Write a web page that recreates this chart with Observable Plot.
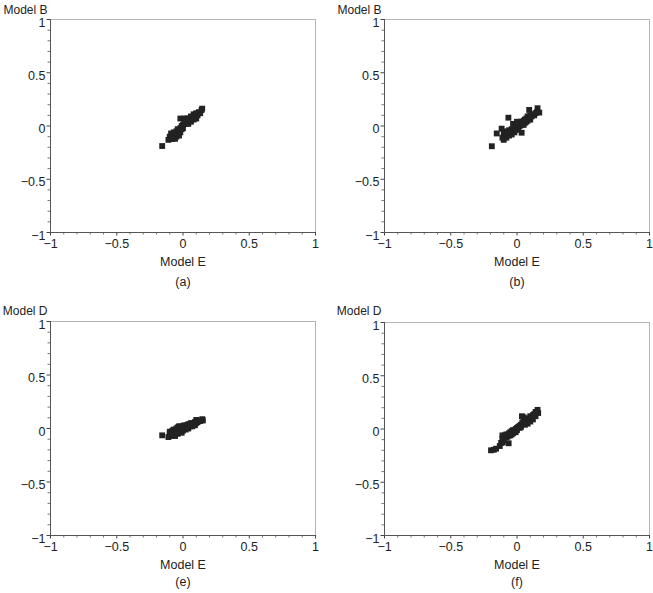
<!DOCTYPE html>
<html>
<head>
<meta charset="utf-8">
<script src="https://cdn.jsdelivr.net/npm/d3@7"></script>
<script src="https://cdn.jsdelivr.net/npm/@observablehq/plot@0.6"></script>
<style>
  html, body { margin: 0; padding: 0; background: #fff; }
  #root { position: relative; width: 653px; height: 593px; overflow: hidden; }
  .panel { position: absolute; }
  .panel svg { font-family: 'Liberation Sans', Arial, Helvetica, sans-serif; }
</style>
</head>
<body>
<div id="root"></div>
<script>
// Tick values
const majorTicks = [-1, -0.5, 0, 0.5, 1];
const minorTicks = [-0.9, -0.8, -0.7, -0.6, -0.4, -0.3, -0.2, -0.1, 0.1, 0.2, 0.3, 0.4, 0.6, 0.7, 0.8, 0.9];

// Panel titles
const panelCaptions = ["(a)", "(b)", "(e)", "(f)"];
const yLabels = ["Model B", "Model B", "Model D", "Model D"];
const xLabel = "Model E";

// Panel (a): Model E (x) vs Model B (y)
const panelA = [
  [-0.157,-0.188],[-0.11,-0.13],[-0.10,-0.10],[-0.09,-0.12],[-0.09,-0.07],[-0.08,-0.09],
  [-0.07,-0.06],[-0.07,-0.11],[-0.06,-0.08],[-0.05,-0.05],[-0.05,-0.10],[-0.04,-0.03],
  [-0.04,-0.07],[-0.03,-0.05],[-0.02,-0.02],[-0.02,-0.06],[-0.01,0.00],[-0.01,-0.03],
  [0.00,0.01],[0.00,-0.02],[-0.02,0.07],[0.01,0.03],[0.01,0.07],[0.02,0.02],[0.02,0.05],
  [0.03,0.04],[0.04,0.07],[0.04,0.02],[0.05,0.06],[0.06,0.09],[0.06,0.04],[0.07,0.08],
  [0.08,0.11],[0.08,0.06],[0.09,0.09],[0.10,0.12],[0.10,0.07],[0.11,0.10],[0.12,0.13],
  [0.13,0.12],[0.14,0.15],[0.145,0.163],[-0.03,-0.09],[-0.06,-0.12],[-0.08,-0.12],[0.03,0.07]
];

// Panel (b): Model E (x) vs Model B (y)
const panelB = [
  [-0.19,-0.19],[-0.153,-0.07],[-0.065,0.078],[-0.116,-0.025],[0.035,-0.063],[0.155,0.167],
  [0.092,0.151],[0.168,0.126],[-0.11,-0.11],[-0.10,-0.13],[-0.10,-0.07],[-0.09,-0.09],
  [-0.08,-0.05],[-0.08,-0.11],[-0.07,-0.07],[-0.06,-0.04],[-0.06,-0.09],[-0.05,-0.06],
  [-0.04,-0.03],[-0.04,-0.08],[-0.03,-0.05],[-0.02,-0.02],[-0.02,-0.06],[-0.01,-0.01],
  [-0.01,-0.04],[0.00,0.01],[0.00,-0.03],[0.01,0.02],[0.01,-0.02],[0.02,0.03],[0.02,0.00],
  [0.03,0.04],[0.03,0.01],[0.04,0.02],[0.05,0.05],[0.05,0.01],[0.06,0.06],[0.06,0.03],
  [0.07,0.07],[0.07,0.04],[0.08,0.09],[0.08,0.05],[0.09,0.08],[0.10,0.10],[0.10,0.06],
  [0.11,0.09],[0.12,0.11],[0.13,0.10],[0.14,0.12],[0.15,0.13],[-0.03,0.02],[0.00,0.04]
];

// Panel (e): Model E (x) vs Model D (y)
const panelE = [
  [-0.157,-0.064],[0.145,0.087],[0.15,0.075],[-0.11,-0.08],[-0.10,-0.05],[-0.10,-0.03],
  [-0.09,-0.07],[-0.08,-0.04],[-0.08,-0.02],[-0.07,-0.06],[-0.07,-0.01],[-0.06,-0.03],
  [-0.06,-0.07],[-0.05,-0.02],[-0.05,0.00],[-0.04,-0.05],[-0.04,0.01],[-0.03,-0.03],
  [-0.03,0.02],[-0.02,-0.01],[-0.02,0.02],[-0.01,-0.04],[-0.01,0.01],[0.00,-0.02],
  [0.00,0.02],[0.01,0.00],[0.01,0.03],[0.02,-0.01],[0.02,0.02],[0.03,0.01],[0.03,0.03],
  [0.04,0.00],[0.04,0.04],[0.05,0.02],[0.05,0.04],[0.06,0.03],[0.06,0.05],[0.07,0.02],
  [0.07,0.05],[0.08,0.04],[0.09,0.06],[0.09,0.03],[0.10,0.05],[0.10,0.08],[0.11,0.06],
  [0.12,0.07],[0.13,0.07],[-0.06,-0.05],[-0.09,-0.05]
];

// Panel (f): Model E (x) vs Model D (y)
const panelF = [
  [-0.196,-0.20],[-0.175,-0.195],[-0.158,-0.185],[-0.13,-0.16],[-0.108,-0.127],[-0.063,-0.134],
  [-0.12,-0.13],[-0.11,-0.06],[-0.11,-0.09],[-0.10,-0.08],[-0.10,-0.11],[-0.09,-0.06],
  [-0.08,-0.08],[-0.08,-0.05],[-0.07,-0.07],[-0.06,-0.04],[-0.06,-0.06],[-0.05,-0.03],
  [-0.05,-0.06],[-0.04,-0.02],[-0.04,-0.05],[-0.03,-0.01],[-0.03,-0.04],[-0.02,-0.02],
  [-0.01,0.00],[-0.01,-0.03],[0.00,0.01],[0.00,-0.01],[0.01,0.02],[0.02,0.01],[0.02,0.03],
  [0.03,0.04],[0.03,0.02],[0.037,0.12],[0.05,0.11],[0.04,0.06],[0.05,0.05],[0.06,0.08],
  [0.06,0.04],[0.07,0.07],[0.08,0.10],[0.08,0.05],[0.09,0.09],[0.10,0.12],[0.10,0.07],
  [0.11,0.10],[0.12,0.13],[0.12,0.09],[0.13,0.14],[0.14,0.16],[0.14,0.12],[0.155,0.18],[0.16,0.15]
];

const panelData = [panelA, panelB, panelE, panelF];

// Layout of the four panels (position and margins)
const layout = [
  {left: 0,   top: 0,   width: 330, height: 298, ml: 50, mr: 15, mt: 19, mb: 66, capDy: 53, labDy: -14.5},
  {left: 330, top: 0,   width: 323, height: 298, ml: 54, mr: 4,  mt: 19, mb: 66, capDy: 53, labDy: -14.5},
  {left: 0,   top: 300, width: 330, height: 293, ml: 50, mr: 15, mt: 21, mb: 58, capDy: 50, labDy: -15},
  {left: 330, top: 300, width: 323, height: 293, ml: 54, mr: 4,  mt: 22, mb: 58, capDy: 50, labDy: -16}
];

const FS = 12.5;
const fmt = d => (d < 0 ? "\u2212" : "") + Math.abs(d);
const root = document.getElementById("root");

panelData.forEach((pts, i) => {
  const L = layout[i];
  const data = pts.map(([x, y]) => ({x, y}));
  const chart = Plot.plot({
    width: L.width,
    height: L.height,
    marginLeft: L.ml,
    marginRight: L.mr,
    marginTop: L.mt,
    marginBottom: L.mb,
    style: {"font-size": FS + "px", color: "#222", background: "#fff", overflow: "visible"},
    x: {domain: [-1, 1]},
    y: {domain: [-1, 1]},
    marks: [
      Plot.frame({stroke: "#b5b5b5"}),
      Plot.axisX(minorTicks, {anchor: "bottom", tickSize: 2.5, tickFormat: () => "", stroke: "#777", label: null}),
      Plot.axisY(minorTicks, {anchor: "left", tickSize: 2.5, tickFormat: () => "", stroke: "#777", label: null}),
      Plot.axisX(majorTicks, {anchor: "bottom", tickSize: 3.5, tickPadding: 3, tickFormat: fmt, stroke: "#444", fill: "#222", fontSize: FS, label: null}),
      Plot.axisY(majorTicks, {anchor: "left", tickSize: 3.5, tickFormat: () => "", stroke: "#444", label: null}),
      Plot.axisY(majorTicks, {anchor: "left", tickSize: 0, tickPadding: 5, dy: 3, tickFormat: fmt, fill: "#222", fontSize: FS, label: null}),
      Plot.ruleX([-1], {stroke: "#555"}),
      Plot.ruleY([-1], {stroke: "#555"}),
      Plot.dot(data, {x: "x", y: "y", symbol: "square", r: 3.3, fill: "#222", stroke: "none"}),
      Plot.text([yLabels[i]], {frameAnchor: "top-left", textAnchor: "end", dx: -3, dy: L.labDy, fill: "#222", fontSize: 12}),
      Plot.text([xLabel], {frameAnchor: "bottom", dy: 33, fill: "#222", fontSize: FS}),
      Plot.text([panelCaptions[i]], {frameAnchor: "bottom", dy: L.capDy, fill: "#222", fontSize: FS})
    ]
  });
  const div = document.createElement("div");
  div.className = "panel";
  div.style.left = L.left + "px";
  div.style.top = L.top + "px";
  div.appendChild(chart);
  root.appendChild(div);
});
</script>
</body>
</html>
